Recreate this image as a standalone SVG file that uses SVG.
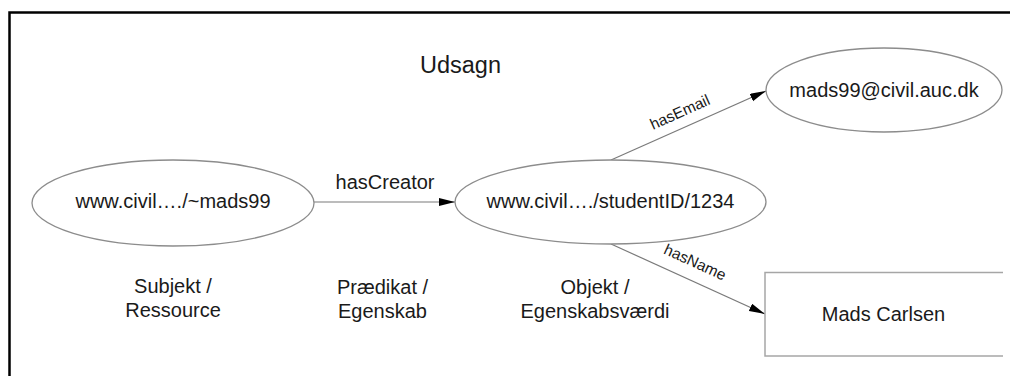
<svg xmlns="http://www.w3.org/2000/svg" width="1010" height="376" viewBox="0 0 1010 376">
  <style>
    text { font-family: "Liberation Sans", Arial, sans-serif; fill: #1a1a1a; }
    .node { font-size: 20px; text-anchor: middle; }
    .caption { font-size: 20px; text-anchor: middle; }
    .title { font-size: 23.5px; text-anchor: middle; }
    .edge-label { font-size: 15.5px; text-anchor: middle; }
    .shape { fill: #ffffff; stroke: #8c8c8c; stroke-width: 1.3; }
    .box { fill: #ffffff; stroke: #a6a6a6; stroke-width: 1.5; }
    .edge { fill: none; stroke: #7a7a7a; stroke-width: 1.2; marker-end: url(#arrow); }
  </style>
  <defs>
    <marker id="arrow" markerUnits="userSpaceOnUse" markerWidth="17" markerHeight="9" refX="16" refY="4" orient="auto">
      <path d="M0,0 L16,4 L0,8 Z" fill="#000000"/>
    </marker>
  </defs>

  <rect x="0" y="0" width="1010" height="376" fill="#ffffff"/>

  <!-- outer frame (left and top edges) -->
  <path d="M9.5,376 V12.5 H1010" fill="none" stroke="#000000" stroke-width="2.5"/>

  <text class="title" x="460.5" y="73">Udsagn</text>

  <!-- connectors -->
  <g id="connectors">
    <line class="edge" x1="314" y1="202" x2="455" y2="202"/>
    <line class="edge" x1="611" y1="160" x2="766" y2="91"/>
    <line class="edge" x1="611" y1="244" x2="765" y2="314"/>
    <text class="node" x="385" y="189">hasCreator</text>
    <text class="edge-label" x="682" y="117" transform="rotate(-24.3 682 117)">hasEmail</text>
    <text class="edge-label" x="693" y="267" transform="rotate(24.4 693 267)">hasName</text>
  </g>

  <g id="subject">
    <ellipse class="shape" cx="173" cy="203" rx="141" ry="43"/>
    <text class="node" x="173" y="208">www.civil…./~mads99</text>
  </g>

  <g id="object">
    <ellipse class="shape" cx="610.5" cy="202" rx="155.5" ry="42"/>
    <text class="node" x="610.5" y="208">www.civil…./studentID/1234</text>
  </g>

  <g id="email">
    <ellipse class="shape" cx="884" cy="90" rx="118" ry="42"/>
    <text class="node" x="884" y="97">mads99@civil.auc.dk</text>
  </g>

  <g id="name">
    <rect x="765" y="272.5" width="250" height="83.5" class="box"/>
    <rect x="1003" y="265" width="7" height="100" fill="#ffffff"/>
    <text class="node" x="883.5" y="321">Mads Carlsen</text>
  </g>

  <!-- role captions -->
  <g id="captions">
    <text class="caption" x="173" y="293">Subjekt /</text>
    <text class="caption" x="173" y="317">Ressource</text>
    <text class="caption" x="382.5" y="294">Prædikat /</text>
    <text class="caption" x="382.5" y="318">Egenskab</text>
    <text class="caption" x="595" y="294">Objekt /</text>
    <text class="caption" x="595" y="318">Egenskabsværdi</text>
  </g>
</svg>
